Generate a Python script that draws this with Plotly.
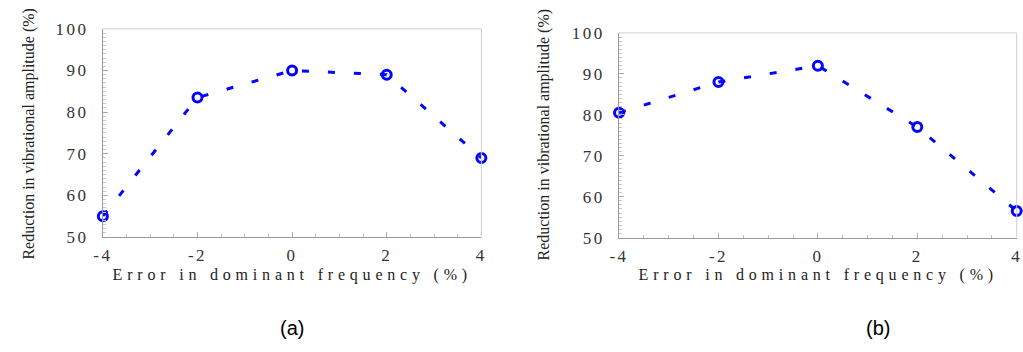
import plotly.graph_objects as go

# ---- data ----
error_pct = [-4, -2, 0, 2, 4]
reduction_a = [55, 83.5, 90, 89, 69]
reduction_b = [80.5, 88, 92, 77, 56.5]

x_ticks = [-4, -2, 0, 2, 4]
x_ticktext = ["-4", "-2", "0", "2", "4"]
y_ticks = [50, 60, 70, 80, 90, 100]
x_title = "Error in dominant frequency (%)"
y_title = "Reduction in vibrational amplitude (%)"
panel_labels = ["(a)", "(b)"]

W, H = 1023, 352
BLUE = "#0505ff"

fig = go.Figure()
for i, ys in enumerate([reduction_a, reduction_b]):
    suffix = "" if i == 0 else "2"
    fig.add_trace(go.Scatter(
        x=error_pct, y=ys, mode="lines+markers",
        xaxis="x" + suffix, yaxis="y" + suffix,
        line=dict(color=BLUE, width=3, dash="7px,19px"),
        marker=dict(symbol="circle-open", size=9, color=BLUE,
                    line=dict(color=BLUE, width=3)),
        cliponaxis=False, showlegend=False,
    ))

tick_font = dict(family="Liberation Serif", size=17, color="#333")

def xaxis(domain, anchor):
    return dict(domain=domain, anchor=anchor, range=[-4, 4],
                tickvals=x_ticks, ticktext=x_ticktext,
                ticks="inside", ticklen=5, tickcolor="#aaa",
                minor=dict(dtick=0.5, ticks="inside", ticklen=3, tickcolor="#bbb"),
                showline=True, linecolor="#999", linewidth=1,
                showgrid=False, zeroline=False, tickfont=tick_font,
                ticklabelstandoff=3)

def yaxis(domain, anchor):
    return dict(domain=domain, anchor=anchor, range=[50, 100],
                tickvals=y_ticks, ticks="inside", ticklen=5, tickcolor="#aaa",
                minor=dict(dtick=1, ticks="inside", ticklen=3, tickcolor="#c8c8c8"),
                showline=True, linecolor="#999", linewidth=1,
                showgrid=False, zeroline=False, tickfont=tick_font,
                ticklabelstandoff=10)

xa_dom = [97 / W, 480 / W]
xb_dom = [619.3 / W, 1021.7 / W]
ya_dom = [1 - 241 / H, 1 - 21 / H]
yb_dom = [1 - 241.7 / H, 1 - 25.3 / H]

fig.update_layout(
    width=W, height=H, margin=dict(l=0, r=0, t=0, b=0),
    paper_bgcolor="white", plot_bgcolor="white",
    xaxis=xaxis(xa_dom, "y"), yaxis=yaxis(ya_dom, "x"),
    xaxis2=xaxis(xb_dom, "y2"), yaxis2=yaxis(yb_dom, "x2"),
)

# frame lines (top / right) in lighter grey
for xr, yr in [("x domain", "y domain"), ("x2 domain", "y2 domain")]:
    fig.add_shape(type="line", xref=xr, yref=yr, x0=0, x1=1, y0=1, y1=1,
                  line=dict(color="#cfcfcf", width=1))
    fig.add_shape(type="line", xref=xr, yref=yr, x0=1, x1=1, y0=0, y1=1,
                  line=dict(color="#cfcfcf", width=1))

title_font = dict(family="Liberation Serif", size=16, color="#222")
ytitle_font = dict(family="Liberation Serif", size=16, color="#222")
label_font = dict(family="Liberation Sans", size=20, color="#000")

for cx, xt_y, yt_x, yt_y, lab_x, lab in [
    (288.5, 281, 22, 132, 288, panel_labels[0]),
    (821, 281, 543, 133, 881, panel_labels[1]),
]:
    fig.add_annotation(x=cx / W, y=1 - xt_y / H, xref="paper", yref="paper",
                       text=x_title, showarrow=False, font=title_font,
                       xanchor="center", yanchor="middle")
    fig.add_annotation(x=yt_x / W, y=1 - yt_y / H, xref="paper", yref="paper",
                       text=y_title, showarrow=False, font=ytitle_font,
                       textangle=-90, xanchor="center", yanchor="middle")
    fig.add_annotation(x=lab_x / W, y=1 - 337 / H, xref="paper", yref="paper",
                       text=lab, showarrow=False, font=label_font,
                       xanchor="center", yanchor="middle")

post = """
var gd = document.getElementById('{plot_id}');
gd.querySelectorAll('text.annotation-text').forEach(function(t){
  if (t.textContent.indexOf('Error') === 0) { t.style.letterSpacing = '4.8px'; }
});
gd.querySelectorAll('g.xtick text, g.x2tick text').forEach(function(t){
  t.style.letterSpacing = '2.5px';
});
gd.querySelectorAll('g.ytick text, g.y2tick text').forEach(function(t){
  t.style.letterSpacing = '2.5px';
});
"""

fig.write_html("out.html", post_script=post)
